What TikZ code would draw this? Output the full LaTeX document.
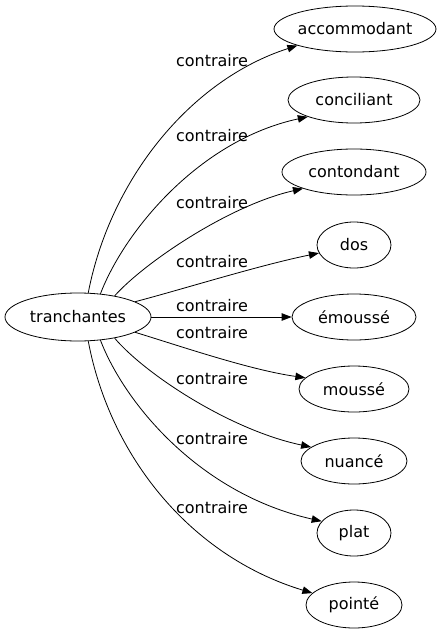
\documentclass[tikz,border=0pt]{standalone}
\usepackage{fontspec}
\setmainfont{DejaVu Sans}
\usetikzlibrary{shapes.geometric,arrows.meta}
\begin{document}
\begin{tikzpicture}[x=1pt,y=-1pt,
  every node/.style={font=\fontsize{16}{19}\selectfont},
  nd/.style={draw,ellipse,inner sep=0pt,minimum height=46pt,line width=0.8pt},
  lbl/.style={inner sep=0pt},
  edge/.style={line width=0.8pt,-{Triangle[length=10pt,width=7.5pt]}}]
\useasboundingbox (0,0) rectangle (446,635);
\node[nd,minimum width=146pt,minimum height=48pt] (src) at (78,317) {tranchantes};
\node[nd,minimum width=154pt] (n1) at (355,29) {accommodant};
\node[nd,minimum width=132pt] (n2) at (354,100) {conciliant};
\node[nd,minimum width=144pt] (n3) at (354,172) {contondant};
\node[nd,minimum width=74pt] (n4) at (354,245) {dos};
\node[nd,minimum width=124pt] (n5) at (354,317) {émoussé};
\node[nd,minimum width=110pt] (n6) at (354,389) {moussé};
\node[nd,minimum width=106pt] (n7) at (354,461) {nuancé};
\node[nd,minimum width=74pt] (n8) at (354,533) {plat};
\node[nd,minimum width=96pt] (n9) at (354,605) {pointé};
\draw[edge] (src.67) .. controls (110,180) and (190,80) .. (n1.196);
\draw[edge] (src.46) .. controls (125,230) and (200,140) .. (n2.200);
\draw[edge] (src.30) .. controls (145,262) and (230,205) .. (n3.198);
\draw[edge] (src.15) .. controls (180,290) and (260,265) .. (n4.193);
\draw[edge] (src.east) -- (n5.west);
\draw[edge] (src.-15) .. controls (180,346) and (250,370) .. (n6.167);
\draw[edge] (src.-30) .. controls (145,374) and (230,430) .. (n7.162);
\draw[edge] (src.-46) .. controls (125,404) and (200,494) .. (n8.160);
\draw[edge] (src.-67) .. controls (110,456) and (190,556) .. (n9.164);
\node[lbl] (l1) at (212,61) {contraire};
\node[lbl] (l2) at (212,136) {contraire};
\node[lbl] (l3) at (212,203) {contraire};
\node[lbl] (l4) at (212,262) {contraire};
\node[lbl] (l5) at (212,306) {contraire};
\node[lbl] (l6) at (212,333) {contraire};
\node[lbl] (l7) at (212,379) {contraire};
\node[lbl] (l8) at (212,439) {contraire};
\node[lbl] (l9) at (212,508) {contraire};
\end{tikzpicture}
\end{document}
